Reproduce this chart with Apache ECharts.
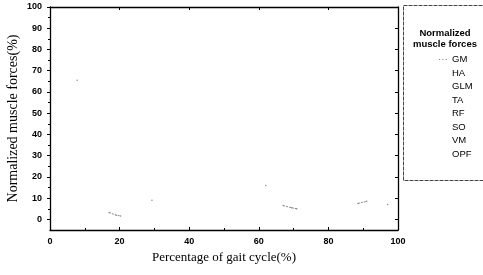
<!DOCTYPE html>
<html>
<head>
<meta charset="utf-8">
<script src="https://cdn.jsdelivr.net/npm/echarts@6/dist/echarts.min.js"></script>
<style>
  html, body { margin: 0; padding: 0; background: #fff; }
  #main { width: 483px; height: 275px; }
</style>
</head>
<body>
<div id="main"></div>
<script>
// muscles listed in the legend
var muscles = ["GM", "HA", "GLM", "TA", "RF", "SO", "VM", "OPF"];

// faint visible fragments of the curves (gait cycle %, force %), null = gap
var gmX = [7.8, null, 17, 19, 20.3, null, 29.3, null, 62, null, 67, 69.4, 70.9, null, 88.5, 91, null, 97];
var gmY = [65.5, null, 3.2, 2, 1.6, null, 9, null, 16, null, 6.5, 5.5, 5, null, 7.5, 8.5, null, 7];

// tick values
var yMajor = [0, 10, 20, 30, 40, 50, 60, 70, 80, 90, 100];
var yMinor = [5, 15, 25, 35, 45, 55, 65, 75, 85, 95];

var chartDom = document.getElementById("main");
var myChart = echarts.init(chartDom);

var gmData = gmX.map(function (x, i) {
  return x === null ? ["-", "-"] : [x, gmY[i]];
});

var series = muscles.map(function (name) {
  return {
    name: name,
    type: "line",
    xAxisIndex: 0,
    yAxisIndex: 0,
    data: name === "GM" ? gmData : [],
    showSymbol: true,
    symbol: "circle",
    symbolSize: 1.5,
    lineStyle: { color: "#8a8a8a", width: 1, type: [2, 1] },
    itemStyle: { color: "#8a8a8a" },
    animation: false
  };
});

var tickLabel = {
  fontFamily: "Liberation Sans, Arial",
  fontSize: 9,
  fontWeight: "bold",
  color: "#000"
};

var option = {
  animation: false,
  grid: { left: 50, right: 85, top: 7, bottom: 45, outerBoundsMode: "none" },
  legend: {
    orient: "vertical",
    left: 434,
    top: 49,
    itemWidth: 8,
    itemHeight: 2,
    itemGap: 2.5,
    textStyle: {
      fontFamily: "Liberation Sans, Arial",
      fontSize: 9.5,
      color: "#000",
      lineHeight: 11
    },
    data: muscles.map(function (m) {
      return m === "GM"
        ? { name: m, icon: "path://M0,0h1v1h-1zM3,0h1v1h-1zM6,0h1v1h-1z" }
        : { name: m, icon: "none" };
    })
  },
  graphic: [
    {
      type: "rect",
      shape: { x: 403.5, y: 5.5, width: 90, height: 175 },
      style: { fill: "none", stroke: "#444", lineWidth: 1, lineDash: [4, 1] },
      silent: true
    },
    {
      type: "text",
      x: 445,
      y: 28,
      style: {
        text: "Normalized\nmuscle forces",
        fontFamily: "Liberation Sans, Arial",
        fontSize: 9.5,
        fontWeight: "bold",
        lineHeight: 11,
        textAlign: "center",
        fill: "#000"
      },
      silent: true
    }
  ],
  xAxis: [
    {
      type: "value",
      min: 0,
      max: 100,
      interval: 20,
      name: "Percentage of gait cycle(%)",
      nameLocation: "middle",
      nameGap: 21,
      nameTextStyle: {
        fontFamily: "Liberation Serif, Times New Roman",
        fontSize: 13,
        color: "#000",
        verticalAlign: "top"
      },
      axisLine: { onZero: false, lineStyle: { color: "#000", width: 1.3 } },
      axisTick: { inside: true, length: 3, lineStyle: { color: "#000" } },
      minorTick: { show: true, splitNumber: 2, length: 2, lineStyle: { color: "#000" } },
      splitLine: { show: false },
      axisLabel: Object.assign({ margin: 7 }, tickLabel)
    },
    {
      type: "value",
      position: "top",
      min: 0,
      max: 100,
      interval: 20,
      axisLine: { onZero: false, lineStyle: { color: "#000", width: 1.3 } },
      axisTick: { inside: true, length: 3, lineStyle: { color: "#000" } },
      splitLine: { show: false },
      axisLabel: { show: false }
    }
  ],
  yAxis: [
    {
      type: "value",
      min: -5,
      max: 100,
      name: "Normalized muscle forces(%)",
      nameLocation: "middle",
      nameGap: 30,
      nameMoveOverlap: false,
      nameTextStyle: {
        fontFamily: "Liberation Serif, Times New Roman",
        fontSize: 14,
        color: "#000"
      },
      axisLine: { show: true, onZero: false, lineStyle: { color: "#000", width: 1.3 } },
      axisTick: { show: true, length: 3, customValues: yMajor, lineStyle: { color: "#000" } },
      splitLine: { show: false },
      axisLabel: Object.assign({ margin: 8, customValues: yMajor }, tickLabel)
    },
    {
      type: "value",
      position: "right",
      min: -5,
      max: 100,
      axisLine: { show: true, onZero: false, lineStyle: { color: "#000", width: 1.3 } },
      axisTick: { show: true, inside: true, length: 3, customValues: yMajor, lineStyle: { color: "#000" } },
      splitLine: { show: false },
      axisLabel: { show: false }
    },
    {
      type: "value",
      position: "left",
      min: -5,
      max: 100,
      axisLine: { show: false },
      axisTick: { show: true, length: 2, customValues: yMinor, lineStyle: { color: "#000" } },
      splitLine: { show: false },
      axisLabel: { show: false }
    }
  ],
  series: series
};

option && myChart.setOption(option);
</script>
</body>
</html>
